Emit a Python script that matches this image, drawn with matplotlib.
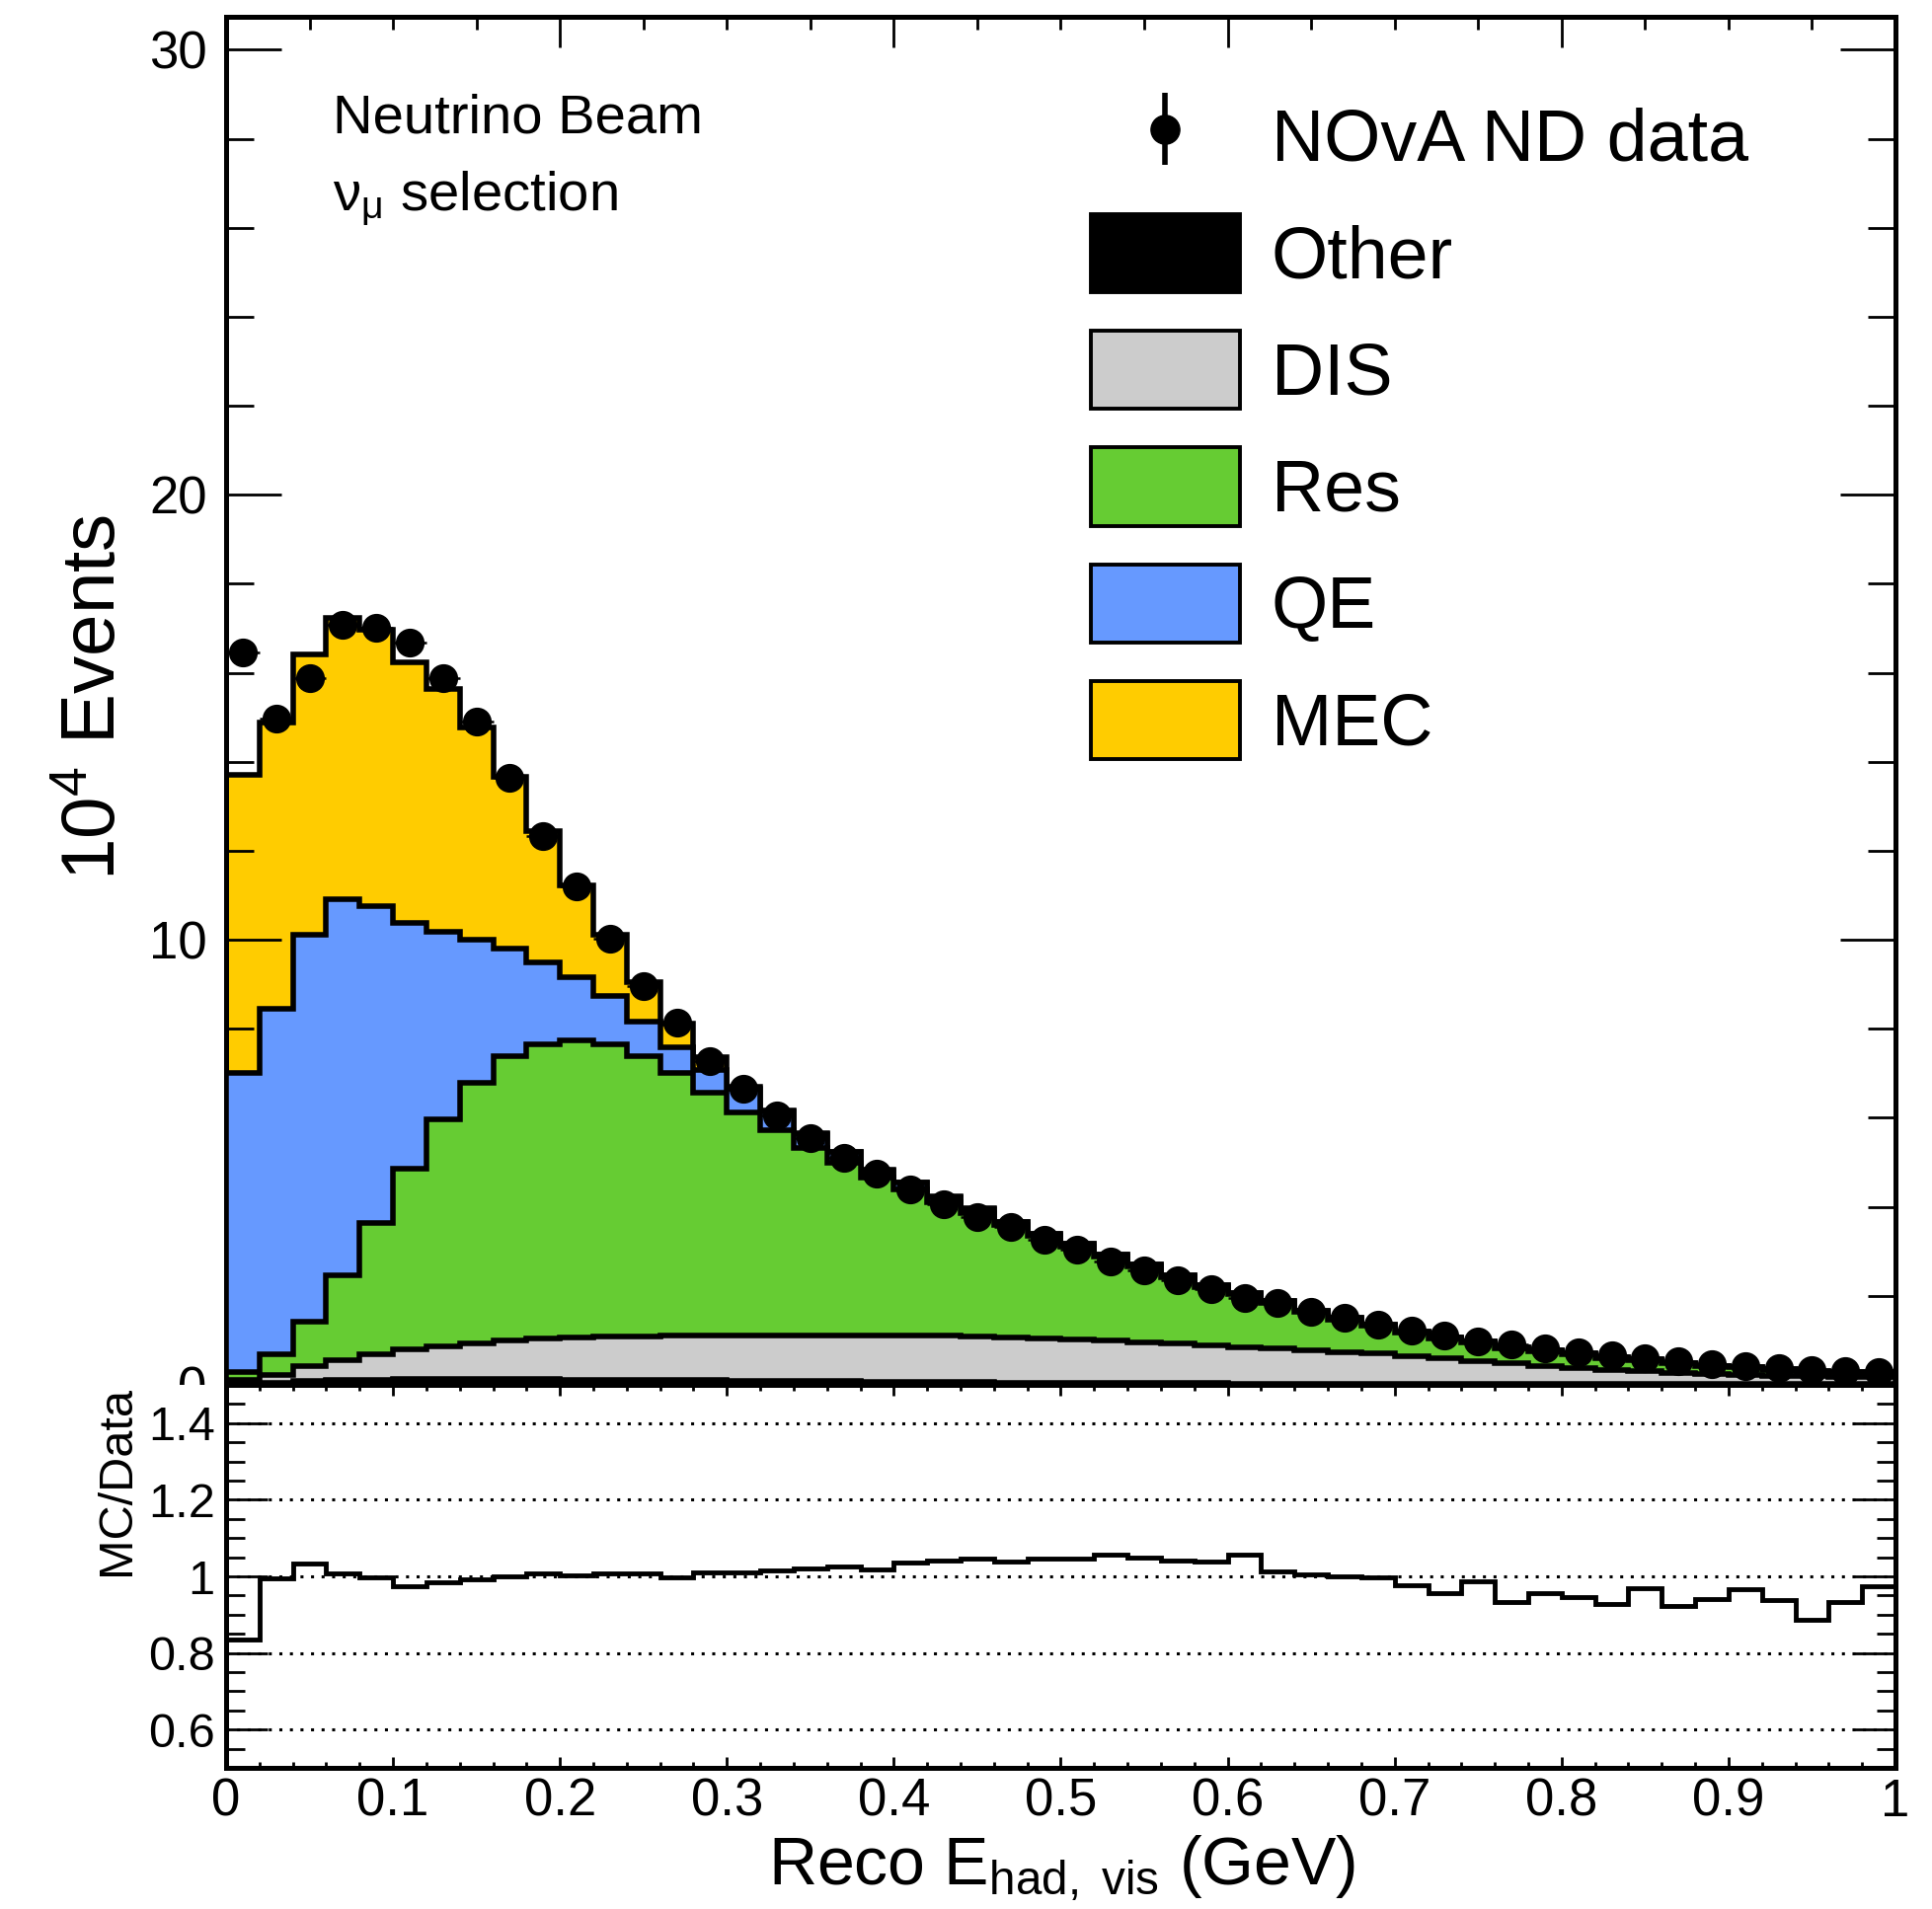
import numpy as np
import matplotlib
matplotlib.use("Agg")
import matplotlib.pyplot as plt
from matplotlib.patches import Patch, Rectangle
from matplotlib.ticker import MultipleLocator, FixedLocator, FuncFormatter

plt.rcParams['font.family'] = ['Liberation Sans', 'DejaVu Sans']
plt.rcParams['mathtext.fontset'] = 'custom'
plt.rcParams['mathtext.rm'] = 'Liberation Sans'
plt.rcParams['mathtext.it'] = 'Liberation Sans:italic'

# 50 bins of reco hadronic visible energy, 0-1 GeV
edges = np.linspace(0.0, 1.0, 51)
centres = 0.5 * (edges[1:] + edges[:-1])

# events per bin, in units of 10^4
data = [16.46, 14.98, 15.88, 17.08, 17.01, 16.67, 15.89, 14.90, 13.65, 12.33,
        11.19, 10.03, 8.96, 8.13, 7.28, 6.65, 6.06, 5.54, 5.11, 4.74,
        4.39, 4.06, 3.78, 3.54, 3.26, 3.03, 2.77, 2.58, 2.36, 2.15,
        1.96, 1.85, 1.65, 1.50, 1.35, 1.22, 1.11, 0.98, 0.91, 0.81,
        0.74, 0.66, 0.59, 0.53, 0.46, 0.41, 0.37, 0.33, 0.31, 0.29]

other = [0.03, 0.05, 0.08, 0.10, 0.12, 0.13, 0.14, 0.14, 0.14, 0.13,
         0.12, 0.12, 0.11, 0.10, 0.10, 0.09, 0.09, 0.08, 0.08, 0.07,
         0.07, 0.06, 0.06, 0.05, 0.05, 0.05, 0.04, 0.04, 0.04, 0.04,
         0.03, 0.03, 0.03, 0.03, 0.03, 0.02, 0.02, 0.02, 0.02, 0.02,
         0.02, 0.02, 0.01, 0.01, 0.01, 0.01, 0.01, 0.01, 0.01, 0.01]

dis = [0.09, 0.17, 0.34, 0.46, 0.56, 0.66, 0.73, 0.80, 0.85, 0.90,
       0.94, 0.96, 0.98, 1.00, 1.00, 1.02, 1.02, 1.03, 1.03, 1.04,
       1.04, 1.04, 1.03, 1.02, 1.00, 0.97, 0.95, 0.92, 0.88, 0.84,
       0.82, 0.78, 0.75, 0.71, 0.67, 0.63, 0.57, 0.51, 0.46, 0.41,
       0.36, 0.32, 0.29, 0.26, 0.23, 0.21, 0.19, 0.18, 0.17, 0.16]

res = [0.16, 0.46, 1.00, 1.89, 2.96, 4.06, 5.09, 5.84, 6.39, 6.63,
       6.68, 6.58, 6.29, 5.90, 5.46, 5.02, 4.61, 4.22, 3.87, 3.54,
       3.29, 3.01, 2.77, 2.52, 2.29, 2.09, 1.89, 1.70, 1.50, 1.31,
       1.18, 1.04, 0.85, 0.73, 0.62, 0.52, 0.45, 0.42, 0.35, 0.32,
       0.30, 0.26, 0.26, 0.21, 0.18, 0.17, 0.14, 0.10, 0.10, 0.10]

qe = [6.72, 7.77, 8.69, 8.47, 7.11, 5.52, 4.21, 3.23, 2.42, 1.83,
      1.41, 1.07, 0.79, 0.58, 0.52, 0.53, 0.42, 0.31, 0.25, 0.17,
      0.14, 0.11, 0.09, 0.07, 0.06, 0.06, 0.05, 0.05, 0.04, 0.04,
      0.04, 0.03, 0.03, 0.03, 0.03, 0.02, 0.02, 0.02, 0.02, 0.02,
      0.02, 0.01, 0.01, 0.01, 0.01, 0.01, 0.01, 0.01, 0.01, 0.01]

mec = [6.70, 6.44, 6.31, 6.31, 6.21, 5.87, 5.47, 4.76, 3.86, 2.95,
       2.07, 1.38, 0.87, 0.53, 0.29, 0.03, 0.02, 0.02, 0.01, 0.01,
       0.01, 0.01, 0.01, 0.0, 0.0, 0.0, 0.0, 0.0, 0.0, 0.0,
       0.0, 0.0, 0.0, 0.0, 0.0, 0.0, 0.0, 0.0, 0.0, 0.0,
       0.0, 0.0, 0.0, 0.0, 0.0, 0.0, 0.0, 0.0, 0.0, 0.0]

# MC/Data ratio as read from the lower pad
ratio = [0.834, 0.994, 1.034, 1.009, 0.997, 0.974, 0.984, 0.991, 1.001, 1.009,
         1.003, 1.008, 1.009, 0.997, 1.010, 1.010, 1.016, 1.021, 1.027, 1.019,
         1.036, 1.042, 1.047, 1.038, 1.047, 1.046, 1.057, 1.049, 1.042, 1.038,
         1.057, 1.014, 1.006, 0.999, 0.997, 0.976, 0.956, 0.986, 0.934, 0.956,
         0.946, 0.928, 0.969, 0.922, 0.941, 0.966, 0.939, 0.887, 0.934, 0.973]

labels = ["Other", "DIS", "Res", "QE", "MEC"]
colours = ["black", "#cccccc", "#66cc33", "#6699ff", "#ffcc00"]

fig = plt.figure(figsize=(19.57, 19.34), dpi=100)
ax = fig.add_axes([0.117, 0.2746, 0.8641, 0.7166])
rx = fig.add_axes([0.117, 0.0739, 0.8641, 0.2007])
ax.set_zorder(0)
rx.set_zorder(2)
# lower pad covers the bottom of the upper pad's "0" label, as in ROOT
fig.add_artist(Rectangle((0, 0.0739), 0.117, 0.2007, transform=fig.transFigure,
                         facecolor="white", edgecolor="none", zorder=1))

# stacked histogram, drawn from the top layer down like THStack
stack = np.cumsum(np.vstack([other, dis, res, qe, mec]), axis=0)
z = 1
for i in range(len(labels) - 1, -1, -1):
    ax.stairs(stack[i], edges, fill=True, color=colours[i], zorder=z)
    ax.stairs(stack[i], edges, color="black", lw=4, zorder=z + 1)
    z += 2

ax.errorbar(centres, data, xerr=0.01, fmt="o", color="black", ms=20,
            elinewidth=1.8, capsize=0, zorder=30)

ax.set_xlim(0, 1)
ax.set_ylim(0, 30.74)
ax.xaxis.set_major_locator(MultipleLocator(0.2))
ax.xaxis.set_minor_locator(MultipleLocator(0.05))
ax.yaxis.set_major_locator(MultipleLocator(10))
ax.yaxis.set_minor_locator(MultipleLocator(2))
ax.tick_params(axis="both", which="both", direction="in", top=True, right=True,
               labelbottom=False, labelsize=38, width=2)
ax.tick_params(axis="y", which="major", length=40, pad=14)
ax.tick_params(axis="y", which="minor", length=20)
ax.tick_params(axis="x", which="major", length=22)
ax.tick_params(axis="x", which="minor", length=9)
for s in ax.spines.values():
    s.set_linewidth(3.6)

# legend
hdata = ax.errorbar([np.nan], [np.nan], yerr=[1.0], fmt="o", color="black",
                    ms=21, elinewidth=4, capsize=0)
handles = [hdata] + [Patch(facecolor=colours[i], edgecolor="black", linewidth=2.8)
                     for i in range(len(labels))]
ax.legend(handles, ["NOvA ND data"] + labels, loc="upper left",
          bbox_to_anchor=(0.5644, 0.9491), bbox_transform=fig.transFigure,
          frameon=False, fontsize=53, handlelength=2.06, handleheight=1.28,
          handletextpad=0.43, labelspacing=0.53, borderpad=0, borderaxespad=0)

fig.text(0.1722, 0.9302, "Neutrino Beam", fontsize=40.5, ha="left", va="baseline")
fig.text(0.1722, 0.8899, r"ν$_{\mathregular{μ}}$ selection", fontsize=40.5,
         ha="left", va="baseline")

# ratio pad
rx.stairs(ratio, edges, color="black", lw=3.5, baseline=None, zorder=3)
for g in [0.6, 0.8, 1.0, 1.2, 1.4]:
    rx.axhline(g, color="black", lw=2.2, ls=(0, (1, 2.5)), zorder=2)
rx.set_xlim(0, 1)
rx.set_ylim(0.5, 1.5)
rx.xaxis.set_major_locator(MultipleLocator(0.1))
rx.xaxis.set_minor_locator(MultipleLocator(0.02))
rx.yaxis.set_major_locator(FixedLocator([0.6, 0.8, 1.0, 1.2, 1.4]))
rx.yaxis.set_minor_locator(MultipleLocator(0.05))
fmt = FuncFormatter(lambda v, p: "%g" % round(v, 3))
rx.xaxis.set_major_formatter(fmt)
rx.yaxis.set_major_formatter(fmt)
rx.tick_params(axis="both", which="both", direction="in", top=True, right=True,
               width=2)
rx.tick_params(axis="x", which="major", length=8, labelsize=38, pad=7)
rx.tick_params(axis="x", which="minor", length=4.5)
rx.tick_params(axis="y", which="major", length=30, labelsize=35, pad=8)
rx.tick_params(axis="y", which="minor", length=14)
for s in rx.spines.values():
    s.set_linewidth(3.6)

fig.text(0.0496, 0.635, r"10$^{\mathregular{4}}$ Events", rotation=90,
         ha="center", va="center", fontsize=55)
fig.text(0.0603, 0.2244, "MC/Data", rotation=90, ha="center", va="center",
         fontsize=35, zorder=5)
fig.text(0.5498, 0.0129, r"Reco E$_{\mathregular{had,\ vis}}$ (GeV)",
         ha="center", va="baseline", fontsize=49)

fig.savefig("out.png", dpi=100, facecolor="white")
